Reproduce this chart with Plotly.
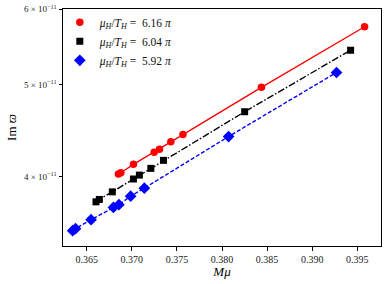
import plotly.graph_objects as go

# ---- data ----
red_x = [0.36851, 0.36878, 0.37018, 0.37248, 0.37307, 0.37433, 0.37567, 0.38437, 0.39581]
red_y = [4.026e-11, 4.039e-11, 4.122e-11, 4.245e-11, 4.276e-11, 4.353e-11, 4.430e-11, 4.967e-11, 5.752e-11]

black_x = [0.36603, 0.36640, 0.36784, 0.37018, 0.37084, 0.37211, 0.37351, 0.38251, 0.39426]
black_y = [3.764e-11, 3.786e-11, 3.856e-11, 3.978e-11, 4.016e-11, 4.082e-11, 4.162e-11, 4.682e-11, 5.434e-11]

blue_x = [0.36344, 0.36376, 0.36548, 0.36796, 0.36857, 0.36987, 0.37139, 0.38073, 0.39270]
blue_y = [3.510e-11, 3.527e-11, 3.605e-11, 3.713e-11, 3.738e-11, 3.816e-11, 3.891e-11, 4.409e-11, 5.149e-11]

NB = "\u00a0"
labels = [f"<i>μ<sub>H</sub></i>/<i>T<sub>H</sub></i>{NB}={NB}{NB}6.16{NB}<i>π</i>",
          f"<i>μ<sub>H</sub></i>/<i>T<sub>H</sub></i>{NB}={NB}{NB}6.04{NB}<i>π</i>",
          f"<i>μ<sub>H</sub></i>/<i>T<sub>H</sub></i>{NB}={NB}{NB}5.92{NB}<i>π</i>"]

x_ticks = [0.365, 0.370, 0.375, 0.380, 0.385, 0.390, 0.395]
y_ticks = [4e-11, 5e-11, 6e-11]
y_ticktext = ["4 × 10<sup>−11</sup>", "5 × 10<sup>−11</sup>", "6 × 10<sup>−11</sup>"]

FONT = "Liberation Serif"

series = [
    (red_x, red_y, "#ff0000", "solid", "circle", 7.5, labels[0]),
    (black_x, black_y, "#000000", "7px,2px,1.5px,2px", "square", 7, labels[1]),
    (blue_x, blue_y, "#0000ff", "4px,2px", "diamond", 9, labels[2]),
]

fig = go.Figure()
for xs, ys, col, dash, sym, sz, lab in series:
    fig.add_trace(go.Scatter(x=xs, y=ys, mode="lines",
                             line=dict(color=col, width=1.4, dash=dash),
                             showlegend=False, hoverinfo="skip"))
for xs, ys, col, dash, sym, sz, lab in series:
    fig.add_trace(go.Scatter(x=xs, y=ys, mode="markers", name=lab,
                             marker=dict(color=col, symbol=sym, size=sz,
                                         line=dict(width=0))))

fig.update_layout(
    width=390, height=284,
    margin=dict(l=63, r=9, t=9, b=38, autoexpand=False),
    paper_bgcolor="white", plot_bgcolor="white",
    font=dict(family=FONT, size=9, color="black"),
    legend=dict(x=-0.01, y=1.005, xanchor="left", yanchor="top",
                bgcolor="rgba(0,0,0,0)", borderwidth=0,
                font=dict(family=FONT, size=11.5, color="#111"),
                itemwidth=30, tracegroupgap=0),
    xaxis=dict(range=[0.36237, 0.39763], tickvals=x_ticks, tickformat=".3f",
               showgrid=False, zeroline=False, automargin=False,
               showline=True, linecolor="black", linewidth=1, mirror=True,
               ticks="outside", ticklen=3.5, tickwidth=0.8, tickcolor="black",
               tickfont=dict(family=FONT, size=10, color="#222"),
               title=dict(text="<i>M</i><i>μ</i>", standoff=0,
                          font=dict(family=FONT, size=13, color="black"))),
    yaxis=dict(type="log", range=[-10.4708, -10.2215],
               tickvals=y_ticks, ticktext=y_ticktext,
               showgrid=False, zeroline=False, automargin=False,
               showline=True, linecolor="black", linewidth=1, mirror=True,
               ticks="outside", ticklen=3.5, tickwidth=0.8, tickcolor="black",
               tickfont=dict(family=FONT, size=9, color="#222"),
               title=dict(text="Im <i>ϖ</i>", standoff=4,
                          font=dict(family=FONT, size=13, color="black"))),
)

fig.write_html("out.html",
               config={"displayModeBar": False},
               post_script="document.body.style.margin='0px';document.body.style.padding='0px';")
